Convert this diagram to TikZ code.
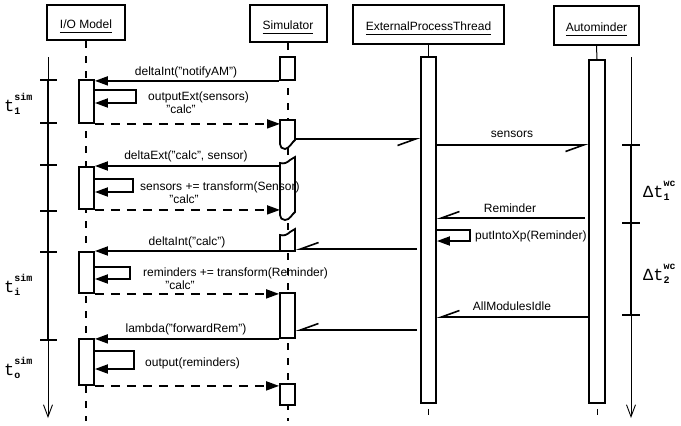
\documentclass[tikz,border=0pt]{standalone}
\usepackage{fontspec}
\setmainfont{Liberation Sans}
\newfontfamily\cour{Liberation Mono}
\usetikzlibrary{arrows.meta}
% straight double quote, independent of TeX ligatures
\newcommand\dq{\char34\relax}
\newcommand\ulname[1]{\underline{#1\vphantom{g}}}
% time symbol with stacked super- and subscript
\newcommand\tsym[3]{{\cour\fontsize{17}{17}\selectfont #1}\rlap{\raisebox{11pt}{\cour\bfseries\fontsize{10}{10}\selectfont #2}}\raisebox{-3pt}{\cour\bfseries\fontsize{10}{10}\selectfont #3}}
\begin{document}
\begin{tikzpicture}[x=1pt,y=-1pt,
  every node/.style={font=\fontsize{12}{14}\selectfont},
  hdr/.style={draw,line width=2pt,inner sep=0pt,text height=11pt,text depth=0pt},
  actbar/.style={draw,fill=white,line width=1.8pt,inner sep=0pt,minimum width=15pt},
  lifeline/.style={line width=1.5pt,dash pattern=on 7pt off 8pt},
  msg/.style={line width=1.8pt,-{Triangle[length=13pt,width=9pt]}},
  ret/.style={msg,dash pattern=on 9pt off 7pt},
  async/.style={line width=1.6pt,-{Straight Barb[right,length=18pt,width=13pt]}},
  lbl/.style={inner sep=0pt,anchor=base},
  lbll/.style={inner sep=0pt,anchor=base west},
  timeaxis/.style={line width=0.9pt,-{Straight Barb[length=12pt,width=9pt]}},
  span/.style={line width=2.5pt},
]
\useasboundingbox (0,0) rectangle (681,426);

% ---- object headers
\node[hdr,minimum width=78pt,minimum height=35pt] (io) at (86,22.5) {\ulname{I/O Model}};
\node[hdr,minimum width=77pt,minimum height=37pt] (sim) at (288,23.5) {\ulname{Simulator}};
\node[hdr,minimum width=151pt,minimum height=39pt] (ept) at (428.5,24.5) {\ulname{ExternalProcessThread}};
\node[hdr,minimum width=85pt,minimum height=39pt] (am) at (596.5,25.5) {\ulname{Autominder}};

% ---- lifelines
\coordinate (ioend) at (86,421);
\coordinate (simend) at (288,421);
\draw[lifeline] (io.south) -- (ioend);
\draw[lifeline] (sim.south) -- (simend);

% ---- thread bars
\node[actbar,minimum height=346pt] (eptbar) at (428.5,230) {};
\node[actbar,minimum width=16pt,minimum height=343pt] (ambar) at (597,231.5) {};
\draw[line width=1pt] (ept.south) -- (eptbar.north);
\draw[line width=1pt] (am.south) -- (ambar.north);
\draw[line width=1pt] ([yshift=-5pt]eptbar.south) -- ([yshift=-11pt]eptbar.south);
\draw[line width=1pt] ([yshift=-5pt]ambar.south) -- ([yshift=-11pt]ambar.south);

% ---- I/O model activations
\node[actbar,minimum height=43pt] (io1) at (86.5,101.5) {};
\node[actbar,minimum height=42pt] (io2) at (86.5,188) {};
\node[actbar,minimum height=41pt] (io3) at (86.5,272.5) {};
\node[actbar,minimum height=46pt] (io4) at (86.5,362) {};

% ---- simulator activations
\node[actbar,minimum height=23pt] (sb1) at (287.5,68.5) {};
\draw[actbar] (280,120) -- (295,120) -- (295,140)
  .. controls (292,142) and (290,148) .. (285,149)
  .. controls (282,149) and (280,147) .. (280,144) -- cycle;
\draw[actbar] (280,163) .. controls (284,164) and (287,163) .. (290,160) -- (295,157)
  -- (295,212) .. controls (292,214) and (290,220) .. (285,220)
  .. controls (282,220) and (280,218) .. (280,215) -- cycle;
\draw[actbar] (280,251) -- (280,235) .. controls (284,236) and (287,235) .. (290,232)
  -- (295,229) -- (295,251) -- cycle;
\node[actbar,minimum height=45pt] (sb5) at (287.5,315.5) {};
\node[actbar,minimum height=21pt] (sb6) at (287.5,394.5) {};
\coordinate (sb2w) at (280,123);
\coordinate (sb2e) at (296,139);
\coordinate (sb3w) at (280,166);
\coordinate (sb3wb) at (280,209);
\coordinate (sb4w) at (280,251);
\coordinate (sb4e) at (296,249);

% ---- calls to the I/O model
\draw[msg] (sb1.south west) -- (sb1.south west -| io1.east);
\draw[msg] (sb3w) -- (sb3w -| io2.east);
\draw[msg] (sb4w) -- (sb4w -| io3.east);
\draw[msg] (sb5.south west) -- (sb5.south west -| io4.east);

% ---- internal steps
\coordinate (s1a) at (136,90);  \coordinate (s1b) at (136,103);
\coordinate (s2a) at (133,179); \coordinate (s2b) at (133,192);
\coordinate (s3a) at (130,267); \coordinate (s3b) at (130,279);
\coordinate (s4a) at (134,351); \coordinate (s4b) at (134,369);
\draw[msg] (s1a -| io1.east) -- (s1a) -- (s1b) -- (s1b -| io1.east);
\draw[msg] (s2a -| io2.east) -- (s2a) -- (s2b) -- (s2b -| io2.east);
\draw[msg] (s3a -| io3.east) -- (s3a) -- (s3b) -- (s3b -| io3.east);
\draw[msg] (s4a -| io4.east) -- (s4a) -- (s4b) -- (s4b -| io4.east);

% ---- returns
\draw[ret] (io1.south east) -- (io1.south east -| sb2w);
\draw[ret] (io2.south east) -- (io2.south east -| sb3wb);
\draw[ret] (io3.south east) -- (io3.south east -| sb5.west);
\draw[ret] (io4.south east) -- (io4.south east -| sb6.west);

% ---- asynchronous messages
\coordinate (a2) at (436,145);
\coordinate (a3) at (585,218);
\coordinate (a4) at (417,249);
\coordinate (a5) at (417,330);
\coordinate (a6) at (589,317);
\draw[async] (sb2e) -- (sb2e -| eptbar.west);
\draw[async] (a2 -| eptbar.east) -- (a2 -| ambar.west);
\draw[async] (a3) -- (a3 -| eptbar.east);
\draw[async] (a4) -- (sb4e);
\draw[async] (a5) -- (a5 -| sb5.east);
\draw[async] (a6 -| ambar.west) -- (a6 -| eptbar.east);
\coordinate (sxa) at (470,230); \coordinate (sxb) at (470,241);
\draw[msg] (sxa -| eptbar.east) -- (sxa) -- (sxb) -- (sxb -| eptbar.east);

% ---- message labels
\node[lbl] (m1) at (186,75) {deltaInt(\dq notifyAM\dq)};
\node[lbll] (m2) at (148,100) {outputExt(sensors)};
\node[lbl] (m3) at (181,113) {\dq calc\dq};
\node[lbl] (m4) at (186,159) {deltaExt(\dq calc\dq, sensor)};
\node[lbll] (m5) at (140,190) {sensors += transform(Sensor)};
\node[lbl] (m6) at (184,203) {\dq calc\dq};
\node[lbl] (m7) at (187,245) {deltaInt(\dq calc\dq)};
\node[lbll] (m8) at (143,276) {reminders += transform(Reminder)};
\node[lbl] (m9) at (180,289) {\dq calc\dq};
\node[lbl] (m10) at (186,332) {lambda(\dq forwardRem\dq)};
\node[lbll] (m11) at (145,366) {output(reminders)};
\node[lbl] (m12) at (512,137) {sensors};
\node[lbl] (m13) at (510,212) {Reminder};
\node[lbll] (m14) at (475,239) {putIntoXp(Reminder)};
\node[lbl] (m15) at (512,310) {AllModulesIdle};

% ---- simulation time axis
\coordinate (lt0) at (48,57); \coordinate (lt1) at (48,418);
\draw[timeaxis] (lt0) -- (lt1);
\draw[span] (48,80) -- (48,340);
\foreach \y in {80,123,165,211,252,340} \draw[span] (40,\y) -- (57,\y);
\node[lbll] (ts1) at (4,111) {\tsym{t}{sim}{1}};
\node[lbll] (tsi) at (4,292) {\tsym{t}{sim}{i}};
\node[lbll] (tso) at (4,375) {\tsym{t}{sim}{o}};

% ---- wall-clock time axis
\coordinate (rt0) at (631,57); \coordinate (rt1) at (631,418);
\draw[timeaxis] (rt0) -- (rt1);
\draw[span] (631,145) -- (631,315);
\foreach \y in {145,223,315} \draw[span] (622,\y) -- (640,\y);
\node[lbll] (tw1) at (643,197) {\tsym{Δt}{wc}{1}};
\node[lbll] (tw2) at (643,280) {\tsym{Δt}{wc}{2}};
\end{tikzpicture}
\end{document}
